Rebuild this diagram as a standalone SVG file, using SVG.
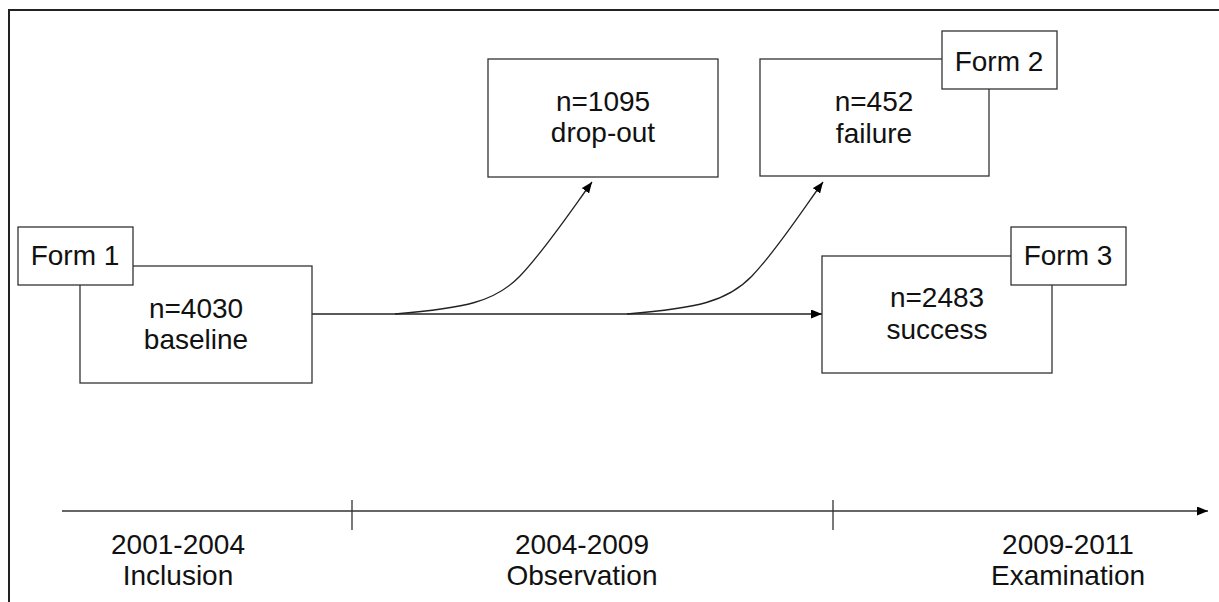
<svg xmlns="http://www.w3.org/2000/svg" width="1219" height="602" viewBox="0 0 1219 602">
<style>
.box{fill:#fff;stroke:#333;stroke-width:1.3}
.t{font-family:"Liberation Sans",Arial,sans-serif;font-size:28px;fill:#111;text-anchor:middle}
.c{fill:none;stroke:#222;stroke-width:1.3}
.ax{fill:none;stroke:#333;stroke-width:1.3}
</style>
<defs>
<marker id="ah" markerWidth="11" markerHeight="9" refX="11" refY="4.5" orient="auto" markerUnits="userSpaceOnUse">
<path d="M0,0 L11,4.5 L0,9 Z" fill="#000"/>
</marker>
</defs>
<rect width="1219" height="602" fill="#fff"/>
<path d="M9,602 V10 H1219" fill="none" stroke="#222" stroke-width="2"/>

<g id="connectors">
<path class="c" d="M312,314 H822" marker-end="url(#ah)"/>
<path class="c" d="M395,314 C465,308 495,302 520,276 S575,205 592,182" marker-end="url(#ah)"/>
<path class="c" d="M627,314 C697,308 727,302 752,276 S806,205 823,182" marker-end="url(#ah)"/>
</g>

<g id="baseline">
<rect class="box" x="80" y="266" width="232" height="117"/>
<text class="t" x="196" y="318">n=4030</text>
<text class="t" x="196" y="349">baseline</text>
</g>
<g id="form1">
<rect class="box" x="18" y="227" width="115" height="58"/>
<text class="t" x="75" y="265">Form 1</text>
</g>

<g id="dropout">
<rect class="box" x="488" y="59" width="230" height="118"/>
<text class="t" x="603" y="111">n=1095</text>
<text class="t" x="603" y="142">drop-out</text>
</g>

<g id="failure">
<rect class="box" x="760" y="59" width="229" height="117"/>
<text class="t" x="874" y="111">n=452</text>
<text class="t" x="874" y="143">failure</text>
</g>
<g id="form2">
<rect class="box" x="942" y="31" width="115" height="58"/>
<text class="t" x="999" y="71">Form 2</text>
</g>

<g id="success">
<rect class="box" x="822" y="256" width="230" height="117"/>
<text class="t" x="937" y="307">n=2483</text>
<text class="t" x="937" y="339">success</text>
</g>
<g id="form3">
<rect class="box" x="1011" y="227" width="115" height="58"/>
<text class="t" x="1068" y="265">Form 3</text>
</g>

<g id="timeline">
<path class="ax" d="M62,511 H1208" marker-end="url(#ah)"/>
<path class="ax" d="M352,500 V530 M833,500 V530"/>
<text class="t" x="178" y="554">2001-2004</text>
<text class="t" x="178" y="585">Inclusion</text>
<text class="t" x="582" y="554">2004-2009</text>
<text class="t" x="582" y="585">Observation</text>
<text class="t" x="1068" y="554">2009-2011</text>
<text class="t" x="1068" y="585">Examination</text>
</g>
</svg>
